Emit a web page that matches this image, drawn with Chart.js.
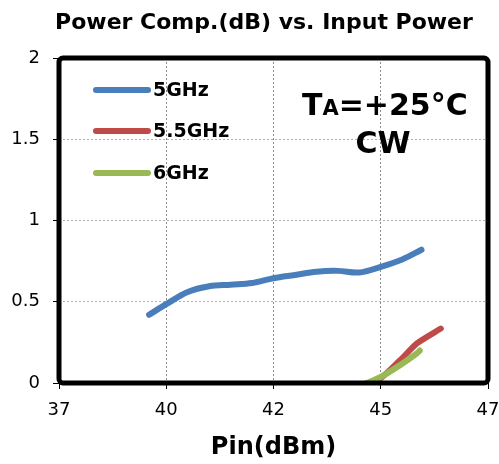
<!DOCTYPE html>
<html>
<head>
<meta charset="utf-8">
<script src="https://cdn.jsdelivr.net/npm/chart.js@4.4.1/dist/chart.umd.min.js"></script>
<style>
  html, body { margin: 0; padding: 0; background: #fff; }
  #wrap { width: 499px; height: 464px; }
</style>
</head>
<body>
<div id="wrap"><canvas id="c" width="499" height="464"></canvas></div>
<script>
// ---- data ----
const titleText = 'Power Comp.(dB) vs. Input Power';
const xTitle = 'Pin(dBm)';
const seriesNames = ['5GHz', '5.5GHz', '6GHz'];
const seriesColors = ['#4A7EBB', '#BE4B48', '#98B954'];

const pin5 = [39.1, 39.5, 40.0, 40.5, 41.0, 41.5, 42.0, 42.5, 43.0, 43.5, 44.0, 44.5, 45.0, 45.45];
const comp5 = [0.42, 0.485, 0.56, 0.595, 0.605, 0.615, 0.645, 0.665, 0.685, 0.69, 0.68, 0.715, 0.76, 0.82];

const pin55 = [43.95, 44.5, 44.95, 45.35, 45.9];
const comp55 = [-0.02, 0.03, 0.14, 0.245, 0.335];

const pin6 = [44.1, 44.5, 44.95, 45.33, 45.41];
const comp6 = [-0.01, 0.037, 0.11, 0.18, 0.2];

const xTickLabels = ['37', '40', '42', '45', '47'];
const yTickLabels = ['0', '0.5', '1', '1.5', '2'];

const FONT = 'DejaVu Sans';

function pts(xs, ys) { return xs.map((x, i) => ({ x: x, y: ys[i] })); }

const tensions = [0.35, 0.2, 0.2];
const drawOrder = [2, 1, 0]; // later series drawn on top, as in the reference
const datasets = [
  { label: seriesNames[0], data: pts(pin5, comp5) },
  { label: seriesNames[1], data: pts(pin55, comp55) },
  { label: seriesNames[2], data: pts(pin6, comp6) }
].map((d, i) => Object.assign(d, {
  borderColor: seriesColors[i],
  backgroundColor: seriesColors[i],
  borderWidth: 6,
  borderCapStyle: 'round',
  borderJoinStyle: 'round',
  pointRadius: 0,
  tension: tensions[i],
  order: drawOrder[i],
  fill: false
}));

const decor = {
  id: 'decor',
  afterDatasetsDraw(chart) {
    const ctx = chart.ctx;
    const a = chart.chartArea;
    ctx.save();
    ctx.strokeStyle = '#000';
    ctx.lineWidth = 5;
    ctx.beginPath();
    if (ctx.roundRect) ctx.roundRect(a.left, a.top, a.right - a.left, a.bottom - a.top, 4);
    else ctx.rect(a.left, a.top, a.right - a.left, a.bottom - a.top);
    ctx.stroke();
    ctx.restore();
  },
  afterDraw(chart) {
    const ctx = chart.ctx;
    ctx.save();
    ctx.fillStyle = '#000';
    // title
    ctx.font = 'bold 22px "' + FONT + '"';
    ctx.textAlign = 'center';
    ctx.textBaseline = 'middle';
    ctx.fillText(titleText, 264, 23);

    // legend
    const ly = [90, 131, 173];
    chart.data.datasets.forEach((d, i) => {
      ctx.strokeStyle = d.borderColor;
      ctx.lineWidth = 6;
      ctx.lineCap = 'round';
      ctx.beginPath();
      ctx.moveTo(96, ly[i]);
      ctx.lineTo(148, ly[i]);
      ctx.stroke();
      ctx.fillStyle = '#000';
      ctx.font = 'bold 19px "' + FONT + '"';
      ctx.textAlign = 'left';
      ctx.textBaseline = 'middle';
      ctx.fillText(d.label, 153, ly[i] + 1);
    });

    // annotation T_A=+25°C / CW
    ctx.textBaseline = 'alphabetic';
    ctx.textAlign = 'left';
    const big = 'bold 30px "' + FONT + '"';
    const small = 'bold 21px "' + FONT + '"';
    const base = 115;
    let x = 302;
    ctx.font = big; ctx.fillText('T', x, base); x += ctx.measureText('T').width;
    ctx.font = small; ctx.fillText('A', x, base); x += ctx.measureText('A').width;
    ctx.font = big; ctx.fillText('=+25°C', x, base);
    ctx.textAlign = 'center';
    ctx.fillText('CW', 383, 153);
    ctx.restore();
  }
};

new Chart(document.getElementById('c'), {
  type: 'line',
  data: { datasets: datasets },
  plugins: [decor],
  options: {
    responsive: false,
    animation: false,
    layout: { padding: { top: 58, right: 11, bottom: 0, left: 0 } },
    plugins: {
      legend: { display: false },
      title: { display: false },
      tooltip: { enabled: false }
    },
    scales: {
      x: {
        type: 'linear',
        min: 37, max: 47,
        afterFit: s => { s.height = 81; s.paddingLeft = 0; s.paddingRight = 0; },
        ticks: {
          stepSize: 2.5,
          autoSkip: false,
          maxRotation: 0,
          padding: 11,
          color: '#000',
          font: { family: FONT, size: 18 },
          callback: (v, i) => xTickLabels[i]
        },
        grid: {
          color: '#8c8c8c',
          lineWidth: 1,
          dash: [2, 2],
          borderDash: [2, 2],
          tickColor: '#000',
          tickLength: 6,
          tickBorderDash: []
        },
        border: { display: false, dash: [2, 2] },
        title: {
          display: true,
          text: xTitle,
          color: '#000',
          font: { family: FONT, size: 24, weight: 'bold' },
          padding: { top: 0, bottom: 2 }
        }
      },
      y: {
        type: 'linear',
        min: 0, max: 2,
        afterFit: s => { s.width = 59; s.paddingTop = 0; s.paddingBottom = 0; },
        ticks: {
          stepSize: 0.5,
          padding: 13,
          color: '#000',
          font: { family: FONT, size: 18 },
          callback: (v, i) => yTickLabels[i]
        },
        grid: {
          color: '#b0b0b0',
          lineWidth: 1,
          dash: [2, 2],
          borderDash: [2, 2],
          tickColor: '#000',
          tickLength: 6,
          tickBorderDash: []
        },
        border: { display: false, dash: [2, 2] }
      }
    }
  }
});
</script>
</body>
</html>
